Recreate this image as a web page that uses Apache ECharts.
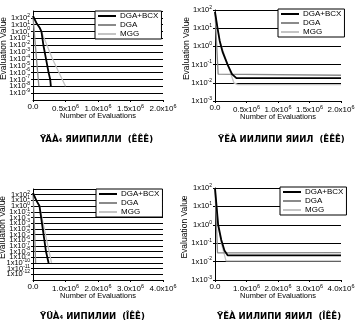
<!DOCTYPE html>
<html><head><meta charset="utf-8">
<script src="https://cdn.jsdelivr.net/npm/echarts@6/dist/echarts.min.js"></script>
<style>html,body{margin:0;padding:0;background:#fff}#c{width:357px;height:331px}</style>
</head><body><div id="c"></div><script>
const seriesNames = ['DGA+BCX', 'DGA', 'MGG'];
const seriesColors = ['#000000', '#8a8a8a', '#c4c4c4'];

// Panel 1 (top-left)
const p1X = [0, 2e6, 0.5e6];
const p1YExp = [-10, 3];
const p1_bcx = [[0,200],[0.05e6,20],[0.1e6,4],[0.13e6,1],[0.16e6,1e-2],[0.2e6,1e-4],[0.24e6,1e-6],[0.265e6,1e-7],[0.275e6,1e-8]];
const p1_dga = [[0,150],[0.045e6,1e-3],[0.09e6,1e-8]];
const p1_mgg = [[0,200],[0.05e6,20],[0.1e6,4],[0.13e6,1],[0.3e6,1e-4],[0.5e6,1e-8]];
const p1Caption = 'ŸÄÀ₄ ЯИИПИЛЛИ  (ÊÊÊ)';

// Panel 2 (top-right)
const p2X = [0, 2e6, 0.5e6];
const p2YExp = [-3, 2];
const p2_bcx = [[0,80],[0.04e6,10],[0.075e6,2],[0.12e6,0.5],[0.2e6,0.1],[0.27e6,0.03],[0.34e6,0.018],[2e6,0.018]];
const p2_dga = [[0,80],[0.05e6,0.03],[0.07e6,0.028],[2e6,0.026]];
const p2_mgg = [[0,80],[0.04e6,10],[0.075e6,2],[0.2e6,0.1],[0.3e6,0.01],[0.36e6,0.008],[2e6,0.008]];
const p2Caption = 'ŸĔÀ ИИЛИПИ ЯИИЛ  (ÊÊÊ)';

// Panel 3 (bottom-left)
const p3X = [0, 4e6, 1e6];
const p3YExp = [-13, 3];
const p3_bcx = [[0,200],[0.1e6,10],[0.2e6,1],[0.3e6,1e-4],[0.4e6,1e-8],[0.48e6,1e-10]];
const p3_dga = [[0,200],[0.04e6,1e-3],[0.08e6,1e-10]];
const p3_mgg = [[0,200],[0.1e6,10],[0.2e6,1],[0.57e6,1e-10]];
const p3Caption = 'ŸÜÀ₄ ИИПИЛИИ  (ÎÊÊ)';

// Panel 4 (bottom-right)
const p4X = [0, 4e6, 1e6];
const p4YExp = [-3, 2];
const p4_bcx = [[0,100],[0.05e6,10],[0.1e6,1],[0.2e6,0.15],[0.3e6,0.04],[0.4e6,0.022],[4e6,0.022]];
const p4_dga = [[0,100],[0.08e6,0.03],[0.1e6,0.031],[4e6,0.031]];
const p4_mgg = [[0,100],[0.1e6,1],[0.2e6,0.1],[0.35e6,0.011],[4e6,0.011]];
const p4Caption = 'ŸĔÀ ИИЛИПИ ЯИИЛ  (ÎÊÊ)';

const panels = [
  {x:p1X, y:p1YExp, data:[p1_bcx,p1_dga,p1_mgg], cap:p1Caption, gap:25, grid:{left:33,top:11,width:130,height:89}, leg:{left:95,top:11}, cap_pos:{left:40,top:135}},
  {x:p2X, y:p2YExp, data:[p2_bcx,p2_dga,p2_mgg], cap:p2Caption, gap:24, grid:{left:215,top:10,width:126,height:91}, leg:{left:278,top:9}, cap_pos:{left:218,top:135}},
  {x:p3X, y:p3YExp, data:[p3_bcx,p3_dga,p3_mgg], cap:p3Caption, gap:26, grid:{left:33,top:189,width:130,height:91}, leg:{left:96,top:189}, cap_pos:{left:40,top:312}},
  {x:p4X, y:p4YExp, data:[p4_bcx,p4_dga,p4_mgg], cap:p4Caption, gap:26, grid:{left:215,top:188,width:126,height:92}, leg:{left:280,top:187}, cap_pos:{left:217,top:312}}
];

const font = 'Liberation Sans';
const xRich = {
  b: {fontSize: 8, fontFamily: font, color: '#000'},
  sup: {fontSize: 5.5, fontFamily: font, color: '#000', padding: [0,0,5,0]}
};
const yRich = {
  b: {fontSize: 7.5, fontFamily: font, color: '#000'},
  sup: {fontSize: 5, fontFamily: font, color: '#000', padding: [0,0,5,0]}
};

const option = {
  animation: false,
  backgroundColor: '#fff',
  grid: [], xAxis: [], yAxis: [], series: [], legend: [], title: []
};

panels.forEach((p, i) => {
  option.grid.push(Object.assign({containLabel: false, outerBoundsMode: 'none'}, p.grid));
  option.xAxis.push({
    type: 'value', gridIndex: i, min: p.x[0], max: p.x[1], interval: p.x[2],
    name: 'Number of Evaluations', nameLocation: 'middle', nameGap: 12, nameMoveOverlap: false,
    nameTextStyle: {fontFamily: font, fontSize: 7.5, color: '#000'},
    axisLine: {lineStyle: {color: '#000', width: 1}},
    axisTick: {show: true, length: 2, lineStyle: {color: '#000'}},
    splitLine: {show: false},
    axisLabel: {margin: 3, color: '#000', fontFamily: font, fontSize: 8, rich: xRich,
      formatter: v => v === 0 ? '{b|0.0}' : '{b|' + (v / 1e6).toFixed(1) + 'x10}{sup|6}'}
  });
  option.yAxis.push({
    type: 'log', logBase: 10, gridIndex: i,
    min: Math.pow(10, p.y[0]), max: Math.pow(10, p.y[1]), interval: 1,
    name: 'Evaluation Value', nameLocation: 'middle', nameGap: p.gap, nameMoveOverlap: false,
    nameTextStyle: {fontFamily: font, fontSize: 8.5, color: '#000', padding: [0, 0, 0, 14]},
    axisLine: {show: true, lineStyle: {color: '#000', width: 1}},
    axisTick: {show: true, length: 2, lineStyle: {color: '#000'}},
    minorTick: {show: false},
    splitLine: {show: true, lineStyle: {color: '#000', width: 1}},
    axisLabel: {margin: 3, color: '#000', fontFamily: font, fontSize: 7.5, rich: yRich, hideOverlap: false,
      formatter: v => '{b|1x10}{sup|' + Math.round(Math.log10(v)) + '}'}
  });
  [2, 1, 0].forEach(k => {
    option.series.push({
      type: 'line', name: seriesNames[k], xAxisIndex: i, yAxisIndex: i,
      data: p.data[k], showSymbol: false, symbol: 'none', z: 3 + (2 - k),
      lineStyle: {color: seriesColors[k], width: k === 0 ? 1.8 : 1.3},
      itemStyle: {color: seriesColors[k]}
    });
  });
  option.legend.push({
    orient: 'vertical', left: p.leg.left, top: p.leg.top,
    data: seriesNames, icon: 'rect', itemWidth: 18, itemHeight: 2, itemGap: 1,
    backgroundColor: '#fff', borderColor: '#000', borderWidth: 1, borderRadius: 0,
    padding: [1, 3, 1, 3], selectedMode: false,
    textStyle: {fontFamily: font, fontSize: 8, color: '#000', lineHeight: 8, padding: [0,0,0,-1]}
  });
  option.title.push({
    text: p.cap, left: p.cap_pos.left, top: p.cap_pos.top, padding: 0,
    textStyle: {fontFamily: "'DejaVu Sans Condensed', 'Liberation Sans'", fontWeight: 'bold', fontSize: 9.5, color: '#000'}
  });
});

const chart = echarts.init(document.getElementById('c'), null, {renderer: 'canvas'});
chart.setOption(option);
</script></body></html>
